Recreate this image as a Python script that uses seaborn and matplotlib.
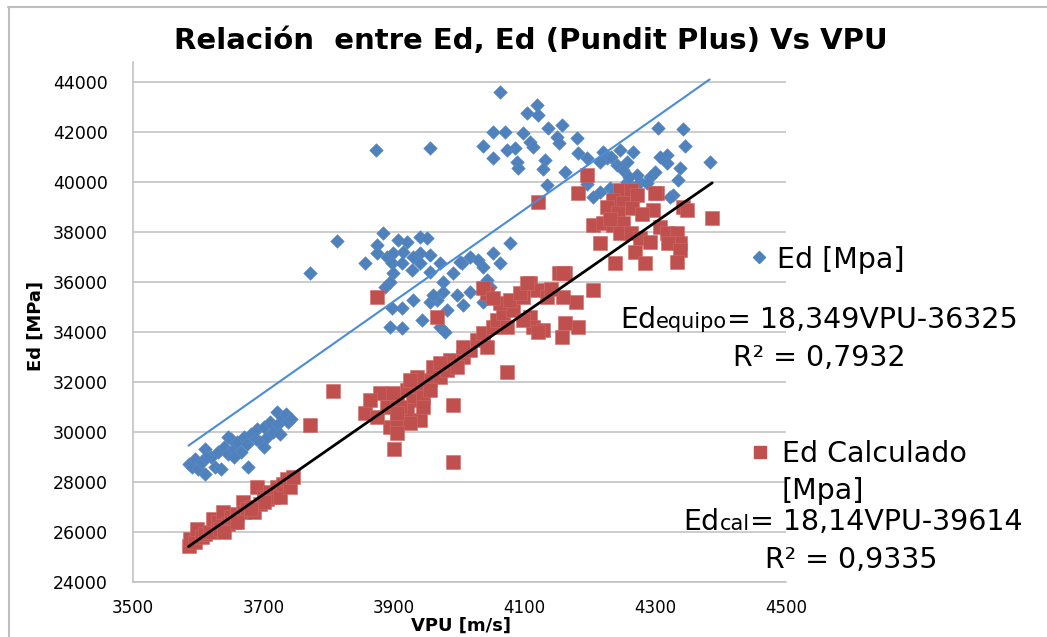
import numpy as np
import pandas as pd
import seaborn as sns
import matplotlib.pyplot as plt
from matplotlib.lines import Line2D

sns.set_theme(style="white")
plt.rcParams["font.family"] = ["DejaVu Sans"]
plt.rcParams["text.color"] = "black"

# ---------------------------------------------------------
# Data
# ---------------------------------------------------------

# Ed [Mpa] (equipo, diamonds)
vpu_equipo = [
    3585, 3590, 3595, 3600, 3605, 3610, 3610, 3620, 3625, 3630, 3635, 3640, 3645,
    3650, 3655, 3660, 3665, 3670, 3675, 3676, 3680, 3688, 3690, 3695, 3700, 3705,
    3710, 3715, 3720, 3722, 3725, 3730, 3735, 3738, 3742, 3700, 3655, 3612, 3645,
    3771, 3812,
    3883, 3874, 3906, 3920, 3939, 3950, 3855, 3874, 3889, 3898, 3913, 3929, 3939,
    3955, 3897, 3912, 3927, 3939, 3955, 3970, 3898, 3894, 3886, 3975, 3990, 4004,
    4016, 4028, 4036, 4051, 4062, 4077, 4042, 4047, 4016, 3996, 3975, 3966, 3955,
    3929, 3912, 3897, 3981, 3943, 3894, 3912, 3970, 3978, 4005, 4036, 3960, 4001,
    3872, 3955,
    4062, 4119, 4103, 4120, 4051, 4070, 4097, 4036, 4073, 4085, 4108, 4113, 4136,
    4157, 4149, 4153, 4180, 4051, 4088, 4090, 4131, 4128, 4162, 4182, 4195, 4220,
    4226, 4246, 4257, 4266, 4241, 4251, 4134, 4205, 4230, 4257, 4277, 4292, 4299,
    4307, 4317, 4318, 4337, 4335, 4327, 4304, 4342, 4345, 4383, 4322, 4287, 4272,
    4260, 4215, 4236, 4215, 4232, 4195,
]
ed_equipo = [
    28700, 28600, 28900, 28500, 28800, 29300, 28300, 29000, 28600, 29200, 28500, 29400, 29100,
    29700, 29300, 29600, 29200, 29800, 29500, 28600, 29900, 29700, 30100, 29600, 30200, 29800,
    30400, 30000, 30800, 30300, 29900, 30600, 30700, 30400, 30500, 29400, 29000, 29000, 29800,
    36360, 37630,
    37960, 37480, 37680, 37600, 37800, 37760, 36760, 37160, 37000, 37160, 37200, 37000, 37160,
    37080, 36760, 36760, 36480, 36760, 36400, 36760, 36360, 36000, 35800, 36000, 36360, 36760,
    37000, 36880, 36600, 37160, 36760, 37560, 36080, 35800, 35600, 35480, 35600, 35290, 35200,
    35290, 34970, 34970, 34890, 34490, 34210, 34170, 34210, 34010, 35090, 35210, 35480, 36800,
    41270, 41350,
    43590, 43070, 42750, 42670, 41990, 41990, 41950, 41430, 41270, 41350, 41590, 41390, 42150,
    42270, 41790, 41550, 41750, 40950, 40790, 40550, 40870, 40510, 40390, 41150, 40950, 41190,
    40950, 41270, 40790, 41190, 40670, 40470, 39870, 39390, 39750, 39990, 39990, 40190, 40390,
    40990, 41070, 40750, 40550, 40070, 39470, 42150, 42110, 41430, 40790, 39390, 39950, 40270,
    40190, 39600, 39650, 40800, 41000, 39900,
]

# Ed Calculado [Mpa] (squares)
vpu_cal = [
    3585, 3588, 3595, 3598, 3605, 3610, 3618, 3623, 3630, 3633, 3638, 3645, 3650,
    3655, 3660, 3668, 3670, 3675, 3680, 3685, 3690, 3695, 3700, 3705, 3710, 3715,
    3720, 3725, 3730, 3736, 3740, 3745, 3700, 3680, 3640, 3660,
    3771, 3806, 3855, 3874, 3966, 4073, 3990, 3900, 3990,
    3894, 3904, 3889, 3904, 3920, 3935, 3929, 3920, 3944, 3955, 3970, 3955, 3939,
    3924, 3904, 3960, 3981, 3985, 4005, 4016, 4027, 4042, 4036, 4051, 4057, 4073,
    4067, 4082, 4062, 4077, 4042, 4036, 4051, 4097, 4108, 4093, 4119, 4134, 4108,
    4113, 4128, 4097, 4005, 3996, 3970, 3935, 3878, 3863, 3874, 3898, 3944, 3924,
    3909, 3904,
    4162, 4205, 4179, 4159, 4182, 4162, 4157, 4103, 4153, 4140, 4120,
    4195, 4182, 4120, 4246, 4262, 4272, 4235, 4302, 4226, 4250, 4264, 4243, 4296,
    4342, 4348, 4205, 4220, 4235, 4250, 4246, 4262, 4277, 4292, 4307, 4317, 4333,
    4337, 4320, 4337, 4215, 4268, 4284, 4238, 4333, 4159, 4387, 4299, 4230, 4280,
]
ed_cal = [
    25450, 25700, 25600, 26100, 25800, 25900, 26000, 26500, 26400, 26100, 26800, 26300, 26600,
    26400, 26700, 27200, 26800, 26900, 27000, 26800, 27800, 27100, 27400, 27300, 27600, 27400,
    27800, 27400, 27900, 28100, 27800, 28200, 27200, 26900, 26000, 26400,
    30290, 31650, 30770, 35410, 34610, 32410, 31090, 29330, 28800,
    30210, 30490, 31010, 31410, 31690, 31810, 31290, 30890, 31410, 32090, 32210, 31690, 30490,
    30370, 29970, 32610, 32490, 32890, 33010, 33290, 33690, 33410, 33970, 34210, 34490, 34210,
    34770, 34890, 35170, 35290, 35570, 35770, 35370, 35410, 35970, 35570, 35690, 35410, 34610,
    34210, 34090, 34490, 33410, 32610, 32770, 32210, 31570, 31290, 30610, 31570, 31010, 32090,
    31010, 30770,
    36360, 35690, 35210, 35410, 34210, 34370, 33810, 35970, 36360, 35700, 34000,
    40270, 39550, 39190, 39670, 39670, 39470, 39270, 39550, 38990, 39150, 38950, 38750, 38870,
    38990, 38870, 38270, 38350, 38270, 38350, 37950, 37950, 37750, 37590, 38190, 37950, 37950,
    37550, 37550, 37270, 37550, 37200, 36760, 36760, 36800, 36360, 38550, 39550, 38500, 38700,
]

# trendline equations shown in the chart
slope_equipo, icpt_equipo = 18.349, -36325
slope_cal, icpt_cal = 18.14, -39614

y_ticks = [24000, 26000, 28000, 30000, 32000, 34000, 36000, 38000, 40000, 42000, 44000]
x_ticks = [3500, 3700, 3900, 4100, 4300, 4500]

blue = "#4F81BD"
red = "#C0504D"

# ---------------------------------------------------------
# Figure
# ---------------------------------------------------------

W, H = 1047, 637
fig = plt.figure(figsize=(W / 100, H / 100), dpi=100)
ax = fig.add_axes([133 / W, 1 - 582 / H, (786 - 133) / W, (582 - 62) / H])

ymax = 44000 + (82 - 62) * 2000 / 50.1
ax.set_xlim(3500, 4500)
ax.set_ylim(24000, ymax)

df_eq = pd.DataFrame({"vpu": vpu_equipo, "ed": ed_equipo})
df_cal = pd.DataFrame({"vpu": vpu_cal, "ed": ed_cal})

sns.scatterplot(data=df_eq, x="vpu", y="ed", marker="D", s=48, color=blue,
                edgecolor="#5B8CC6", linewidth=0.4, ax=ax, zorder=3)
sns.scatterplot(data=df_cal, x="vpu", y="ed", marker="s", s=95, color=red,
                edgecolor="#CF6A67", linewidth=0.4, ax=ax, zorder=4)

xe = np.array([min(vpu_equipo), max(vpu_equipo)])
ax.plot(xe, slope_equipo * xe + icpt_equipo, color="#4A8CD8", lw=1.5, zorder=5, clip_on=False)
xc = np.array([min(vpu_cal), max(vpu_cal)])
ax.plot(xc, slope_cal * xc + icpt_cal, color="black", lw=2.0, zorder=6)

ax.set_xticks(x_ticks)
ax.set_yticks(y_ticks)
ax.set_xticklabels([str(v) for v in x_ticks], fontsize=12)
ax.set_yticklabels([str(v) for v in y_ticks], fontsize=12.5)
ax.tick_params(axis="both", length=0, colors="black")
ax.tick_params(axis="y", pad=18)
ax.tick_params(axis="x", pad=12)
ax.yaxis.grid(True, color="#BEBEBE", lw=1.1)
ax.xaxis.grid(False)
for side in ["top", "right"]:
    ax.spines[side].set_visible(False)
for side in ["left", "bottom"]:
    ax.spines[side].set_color("#BEBEBE")
    ax.spines[side].set_linewidth(1.1)
ax.set_xlabel("")
ax.set_ylabel("")

fig.text(461 / W, 1 - 626 / H, "VPU [m/s]", fontsize=13, fontweight="bold",
         ha="center", va="center")
fig.text(36 / W, 1 - 326 / H, "Ed [MPa]", fontsize=13, fontweight="bold",
         ha="center", va="center", rotation=90)

fig.text(531 / W, 1 - 41 / H, "Relación  entre Ed, Ed (Pundit Plus) Vs VPU",
         fontsize=21, fontweight="bold", ha="center", va="center")

# outer chart border (top and left)
fig.add_artist(Line2D([8 / W, 1], [1 - 7 / H, 1 - 7 / H], color="#BEBEBE", lw=1.5))
fig.add_artist(Line2D([9 / W, 9 / W], [0, 1 - 7 / H], color="#BEBEBE", lw=1.5))

# ---------------------------------------------------------
# Legend and trendline labels
# ---------------------------------------------------------

renderer = fig.canvas.get_renderer()


def runs(x_px, base_px, parts, center=False):
    texts = []
    x = x_px / W
    for s, size in parts:
        t = fig.text(x, 1 - base_px / H, s, fontsize=size, ha="left", va="baseline")
        bb = t.get_window_extent(renderer)
        x = bb.x1 / W
        texts.append(t)
    if center:
        shift = (x - x_px / W) / 2
        for t in texts:
            px, py = t.get_position()
            t.set_position((px - shift, py))


big = 20.5
small = 15
fig.add_artist(Line2D([759 / W], [1 - 257 / H], marker="D", ms=6, color=blue, lw=0))
runs(777, 268, [("Ed [Mpa]", big)])
runs(819, 328, [("Ed", big), ("equipo", small), ("= 18,349VPU-36325", big)], center=True)
runs(819, 366, [("R² = 0,7932", big)], center=True)

fig.add_artist(Line2D([760 / W], [1 - 452 / H], marker="s", ms=8, color=red, lw=0))
runs(782, 462, [("Ed Calculado", big)])
runs(782, 499, [("[Mpa]", big)])
runs(853, 530, [("Ed", big), ("cal", small), ("= 18,14VPU-39614", big)], center=True)
runs(851, 568, [("R² = 0,9335", big)], center=True)

plt.savefig("out.png", dpi=100)
